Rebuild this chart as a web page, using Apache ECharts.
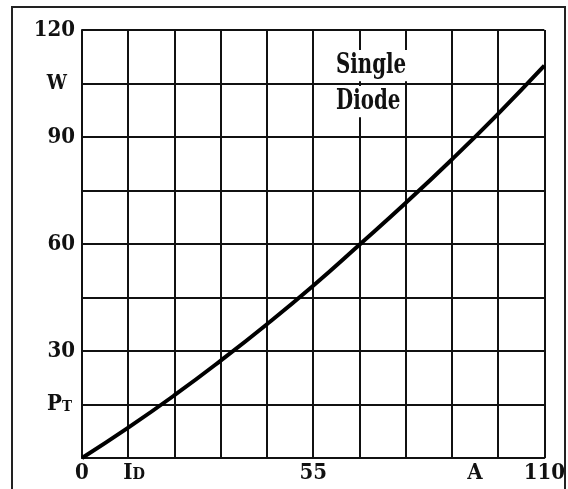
<!DOCTYPE html>
<html lang="en">
<head>
    <meta charset="UTF-8">
    <title>Single Diode PT</title>
    <script src="https://cdn.jsdelivr.net/npm/echarts@6/dist/echarts.min.js"></script>
    <style>
        html, body { margin: 0; padding: 0; background: #fff; }
        #chart { width: 568px; height: 489px; }
    </style>
</head>
<body>
<div id="chart"></div>
<script type="text/javascript">
// current (A) and power (W)
var currents = [0, 11, 22, 33, 44, 55, 66, 77, 88, 99, 110];
var power = [0, 8.5, 17.6, 27.3, 37.5, 48.3, 59.8, 71.5, 83.7, 96.5, 110];

// where the axis labels sit
var xLabelValues = [0, 11, 55, 93.5, 110];
var yLabelValues = [15, 30, 60, 90, 105, 120];

var FONT = '"DejaVu Serif Condensed", "Liberation Serif", serif';

var points = [];
for (var i = 0; i < currents.length; i++) {
    points.push([currents[i], power[i]]);
}

// tall, narrow note text like the scan
function note(txt, x, y) {
    return {
        type: 'text',
        x: x, y: y, scaleY: 1.3, z: 100,
        style: {
            text: txt, fill: '#111', font: 'bold 22px ' + FONT,
            verticalAlign: 'top',
            backgroundColor: '#fff', padding: [1, 1]
        }
    };
}

var myChart = echarts.init(document.getElementById('chart'));
myChart.setOption({
    animation: false,
    backgroundColor: '#fff',
    grid: {left: 82, top: 30, right: 22, bottom: 31},
    graphic: [
        // outer frame
        {
            type: 'rect',
            shape: {x: 12, y: 7, width: 553, height: 500},
            style: {fill: null, stroke: '#222', lineWidth: 2},
            silent: true
        },
        note('Single', 335, 50),
        note('Diode', 335, 86)
    ],
    xAxis: {
        type: 'value',
        min: 0, max: 110, interval: 11,
        axisLine: {lineStyle: {color: '#111', width: 2}},
        axisTick: {show: false},
        splitLine: {lineStyle: {color: '#111', width: 2}},
        axisLabel: {
            customValues: xLabelValues,
            margin: 4,
            color: '#111',
            fontFamily: FONT, fontWeight: 'bold', fontSize: 22,
            formatter: function (v) {
                if (v === 11) return '{b|I}{s|D}';
                if (v === 93.5) return 'A';
                return String(v);
            },
            rich: {
                b: {fontFamily: FONT, fontWeight: 'bold', fontSize: 22, color: '#111', padding: [0, 0, 0, 12]},
                s: {fontFamily: FONT, fontWeight: 'bold', fontSize: 16, color: '#111', padding: [3, 0, 0, 0]}
            }
        }
    },
    yAxis: {
        type: 'value',
        min: 0, max: 120, interval: 15,
        axisLine: {lineStyle: {color: '#111', width: 2}},
        axisTick: {show: false},
        splitLine: {lineStyle: {color: '#111', width: 2}},
        axisLabel: {
            customValues: yLabelValues,
            margin: 7,
            color: '#111',
            fontFamily: FONT, fontWeight: 'bold', fontSize: 22,
            formatter: function (v) {
                if (v === 15) return '{b|P}{s|T}';
                if (v === 105) return '{w|W}';
                return String(v);
            },
            rich: {
                b: {fontFamily: FONT, fontWeight: 'bold', fontSize: 22, color: '#111'},
                s: {fontFamily: FONT, fontWeight: 'bold', fontSize: 15, color: '#111', padding: [5, 3, 0, 0]},
                w: {fontFamily: FONT, fontWeight: 'bold', fontSize: 20, color: '#111', padding: [0, 8, 0, 0]}
            }
        }
    },
    series: [{
        type: 'line',
        data: points,
        smooth: true,
        symbol: 'none',
        lineStyle: {color: '#000', width: 4},
        z: 5
    }]
});
</script>
</body>
</html>
